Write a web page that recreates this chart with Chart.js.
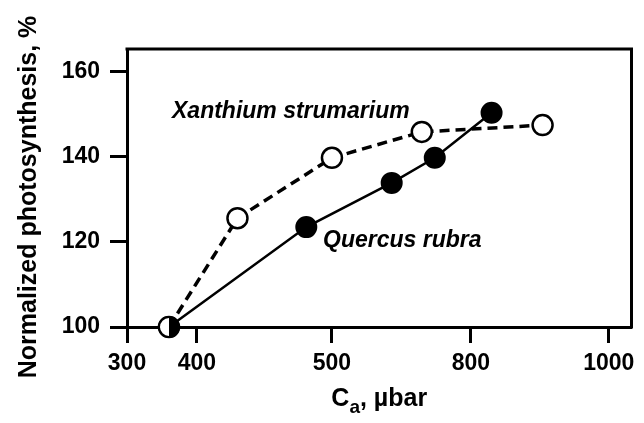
<!DOCTYPE html>
<html lang="en">
<head>
    <meta charset="UTF-8">
    <title>Normalized photosynthesis vs Ca</title>
    <script src="https://cdn.jsdelivr.net/npm/chart.js"></script>
    <style>
        body { margin: 0; background: #fff; }
        #wrap { width: 644px; height: 423px; }
    </style>
</head>
<body>
    <div id="wrap"><canvas id="photoChart" width="644" height="423"></canvas></div>

    <script>
        // Data (Ca in µbar, photosynthesis in %)
        const xanthiumCa = [360, 430, 500, 694, 904];
        const xanthiumPs = [100, 125.6, 139.8, 145.9, 147.5];
        const quercusCa = [360, 481, 629, 722, 830];
        const quercusPs = [100, 123.5, 133.9, 139.8, 150.4];
        const xTicks = [300, 400, 500, 800, 1000];
        const yTicks = [100, 120, 140, 160];

        const FONT = "'Liberation Sans', Arial, Helvetica, sans-serif";

        // the x axis of the original is not evenly spaced: each tick value sits at its own stop
        class BrokenScale extends Chart.LinearScale {
            determineDataLimits() {
                this.min = this.options.min;
                this.max = this.options.max;
            }
            buildTicks() {
                return xTicks.map(v => ({ value: v }));
            }
            toPos(v) {
                const st = this.options.stops;
                let i = 0;
                while (i < st.length - 2 && v > st[i + 1][0]) i++;
                const [v0, p0] = st[i], [v1, p1] = st[i + 1];
                return p0 + (v - v0) * (p1 - p0) / (v1 - v0);
            }
            fromPos(p) {
                const st = this.options.stops;
                let i = 0;
                while (i < st.length - 2 && p > st[i + 1][1]) i++;
                const [v0, p0] = st[i], [v1, p1] = st[i + 1];
                return v0 + (p - p0) * (v1 - v0) / (p1 - p0);
            }
            getPixelForValue(v) {
                const a = this.toPos(this.min), b = this.toPos(this.max);
                return this.getPixelForDecimal((this.toPos(v) - a) / (b - a));
            }
            getValueForPixel(px) {
                const a = this.toPos(this.min), b = this.toPos(this.max);
                return this.fromPos(a + this.getDecimalForPixel(px) * (b - a));
            }
        }
        BrokenScale.id = 'broken';
        BrokenScale.defaults = {};
        Chart.register(BrokenScale);

        // shared first point: half open, half filled
        function halfMarker(r, lw) {
            const c = document.createElement('canvas');
            const s = 2 * Math.ceil(r + lw);
            c.width = c.height = s;
            const g = c.getContext('2d');
            const m = s / 2;
            g.beginPath(); g.arc(m, m, r, Math.PI / 2, Math.PI * 1.5); g.fillStyle = '#fff'; g.fill();
            g.beginPath(); g.arc(m, m, r, -Math.PI / 2, Math.PI / 2); g.fillStyle = '#000'; g.fill();
            g.beginPath(); g.arc(m, m, r, 0, Math.PI * 2); g.lineWidth = lw; g.strokeStyle = '#000'; g.stroke();
            return c;
        }

        const frameAndText = {
            id: 'frameAndText',
            afterDatasetsDraw(chart) {
                const { ctx, chartArea: a } = chart;
                ctx.save();
                // top and right side of the box
                ctx.strokeStyle = '#000';
                ctx.lineWidth = 3;
                ctx.beginPath();
                ctx.moveTo(a.left - 1.5, a.top);
                ctx.lineTo(a.right, a.top);
                ctx.lineTo(a.right, a.bottom + 1.5);
                ctx.stroke();

                ctx.fillStyle = '#000';
                ctx.textBaseline = 'alphabetic';
                ctx.font = `italic bold 23px ${FONT}`;
                ctx.textAlign = 'left';
                ctx.fillText('Xanthium strumarium', 172, 118);
                ctx.fillText('Quercus rubra', 323, 247);

                // y title
                ctx.font = `bold 25px ${FONT}`;
                ctx.save();
                ctx.translate(36, 197);
                ctx.rotate(-Math.PI / 2);
                ctx.textAlign = 'center';
                ctx.fillText('Normalized photosynthesis, %', 0, 0);
                ctx.restore();

                // x title with subscript
                const cx = (a.left + a.right) / 2;
                const big = `bold 25px ${FONT}`, small = `bold 19px ${FONT}`;
                ctx.font = big;
                const w1 = ctx.measureText('C').width;
                const w3 = ctx.measureText(', µbar').width;
                ctx.font = small;
                const w2 = ctx.measureText('a').width;
                const x = cx - (w1 + w2 + w3) / 2;
                ctx.textAlign = 'left';
                ctx.font = big;
                ctx.fillText('C', x, 406);
                ctx.fillText(', µbar', x + w1 + w2, 406);
                ctx.font = small;
                ctx.fillText('a', x + w1, 413);
                ctx.restore();
            }
        };

        const ctx = document.getElementById('photoChart').getContext('2d');
        new Chart(ctx, {
            type: 'line',
            data: {
                datasets: [
                    {
                        label: 'Quercus rubra',
                        data: quercusCa.map((c, i) => ({ x: c, y: quercusPs[i] })),
                        borderColor: '#000',
                        borderWidth: 2.5,
                        backgroundColor: '#000',
                        pointStyle: quercusCa.map((_, i) => i === 0 ? halfMarker(10, 2) : 'circle'),
                        pointRadius: 10,
                        pointBorderWidth: 2,
                        pointBorderColor: '#000',
                        pointBackgroundColor: '#000',
                        tension: 0,
                        clip: false
                    },
                    {
                        label: 'Xanthium strumarium',
                        data: xanthiumCa.map((c, i) => ({ x: c, y: xanthiumPs[i] })),
                        borderColor: '#000',
                        borderWidth: 3.5,
                        borderDash: [10, 6],
                        pointRadius: 10,
                        pointBorderWidth: 2.5,
                        pointBorderColor: '#000',
                        pointBackgroundColor: '#fff',
                        tension: 0,
                        clip: false
                    }
                ]
            },
            options: {
                responsive: false,
                animation: false,
                layout: { padding: { top: 49, right: 12, left: 0, bottom: 0 } },
                plugins: {
                    legend: { display: false },
                    tooltip: { enabled: false }
                },
                scales: {
                    x: {
                        type: 'broken',
                        min: 300,
                        max: 1033,
                        stops: [[300, 0], [400, 0.512], [500, 1.5], [800, 2.517], [1000, 3.526]],
                        grid: { drawOnChartArea: false, tickLength: 16, tickWidth: 3, color: '#000' },
                        border: { display: true, width: 3, color: '#000' },
                        ticks: {
                            autoSkip: false,
                            maxRotation: 0,
                            padding: 7,
                            color: '#000',
                            font: { family: FONT, size: 23, weight: 'bold' },
                            callback: v => String(v)
                        },
                        afterFit: s => { s.height = 96; }
                    },
                    y: {
                        type: 'linear',
                        min: 100,
                        max: 165.4,
                        afterBuildTicks: s => { s.ticks = yTicks.map(v => ({ value: v })); },
                        grid: { drawOnChartArea: false, tickLength: 17, tickWidth: 3, color: '#000' },
                        border: { display: true, width: 3, color: '#000' },
                        ticks: {
                            padding: 10,
                            color: '#000',
                            font: { family: FONT, size: 23, weight: 'bold' }
                        },
                        afterFit: s => { s.width = 127; }
                    }
                }
            },
            plugins: [frameAndText]
        });
    </script>
</body>
</html>
